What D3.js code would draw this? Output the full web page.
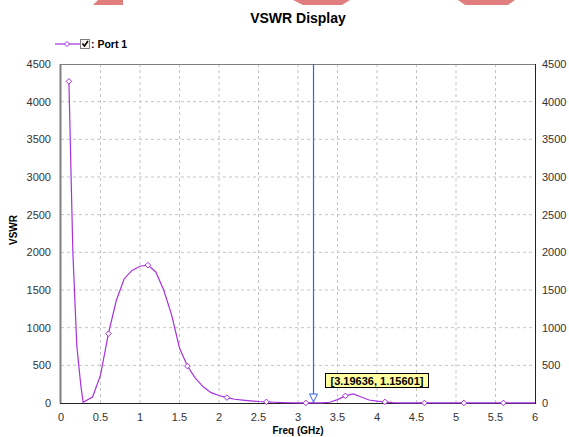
<!DOCTYPE html>
<html lang="en">
<head>
<meta charset="UTF-8">
<title>VSWR Display</title>
<script src="https://d3js.org/d3.v7.min.js"></script>
<style>
  body { margin: 0; background: #fff; }
  svg { display: block; font-family: "Liberation Sans", Arial, sans-serif; }
</style>
</head>
<body>
<svg width="569" height="437"></svg>
<script>
// data
const freq = [0.1, 0.15, 0.2, 0.25, 0.28, 0.4, 0.5, 0.6, 0.7, 0.8, 0.9, 1.0,
              1.1, 1.2, 1.3, 1.4, 1.5, 1.6, 1.7, 1.8, 1.9, 2.0,
              2.1, 2.2, 2.3, 2.4, 2.5, 2.6, 2.7, 2.8, 2.9, 3.0,
              3.1, 3.2, 3.3, 3.4, 3.5, 3.6, 3.7, 3.8, 3.9, 4.0,
              4.1, 4.2, 4.3, 4.4, 4.5, 4.6, 4.7, 4.8, 4.9, 5.0,
              5.1, 5.2, 5.3, 5.4, 5.5, 5.6, 5.7, 5.8, 5.9, 6.0];
const vswr = [4270, 2000, 760, 240, 10, 80, 370, 920, 1360, 1650, 1760, 1815,
              1830, 1740, 1500, 1170, 730, 490, 330, 215, 137, 100,
              72, 50, 38, 28, 20, 15, 10, 6, 3, 2,
              1.2, 1.16, 2, 10, 45, 95, 120, 80, 40, 25,
              15, 5, 2, 1, 1, 1, 1, 1, 1, 1,
              1, 1, 1, 1, 1, 1, 1, 1, 1, 1];
const markerFreq = [0.1, 0.6, 1.1, 1.6, 2.1, 2.6, 3.1, 3.6, 4.1, 4.6, 5.1, 5.6];
const xTicks = [0, 0.5, 1, 1.5, 2, 2.5, 3, 3.5, 4, 4.5, 5, 5.5, 6];
const yTicks = [0, 500, 1000, 1500, 2000, 2500, 3000, 3500, 4000, 4500];
const cursor = { f: 3.19636, v: 1.15601 };

const svg = d3.select("svg");
const mLeft = 61, mRight = 535, mTop = 64, mBottom = 403;
const purple = "#a830e0";

const x = d3.scaleLinear().domain([0, 6]).range([mLeft, mRight]);
const y = d3.scaleLinear().domain([0, 4500]).range([mBottom, mTop]);

// red bits at the top edge
const blobs = [
  [[98, 0], [123, 0], [123, 5], [93, 5]],
  [[293, 0], [350, 0], [342, 5], [303, 5]],
  [[458, 0], [515, 0], [508, 5], [465, 5]]
];
svg.selectAll(".blob").data(blobs).enter().append("polygon")
  .attr("points", d => d.map(p => p.join(",")).join(" "))
  .attr("fill", "#e07e7e");

// title
svg.append("text").attr("x", 298).attr("y", 23).attr("text-anchor", "middle")
  .attr("font-size", 14).attr("font-weight", "bold").text("VSWR Display");

// legend
const lg = svg.append("g");
lg.append("line").attr("x1", 55).attr("x2", 80).attr("y1", 44).attr("y2", 44)
  .attr("stroke", purple).attr("stroke-width", 1.2);
lg.append("path").attr("d", "M67,41.5L69.5,44L67,46.5L64.5,44Z")
  .attr("fill", "#fff").attr("stroke", purple);
lg.append("rect").attr("x", 80.5).attr("y", 39.5).attr("width", 9).attr("height", 9)
  .attr("fill", "#f4f4ec").attr("stroke", "#808080");
lg.append("path").attr("d", "M82.5,43.5L84.5,46L88,41")
  .attr("fill", "none").attr("stroke", "#000").attr("stroke-width", 1.6);
lg.append("text").attr("x", 91).attr("y", 48).attr("font-size", 10.5)
  .attr("font-weight", "bold").text(": Port 1");

// grid
svg.append("g").selectAll("line").data(xTicks.slice(1, -1)).enter().append("line")
  .attr("x1", d => x(d)).attr("x2", d => x(d)).attr("y1", mTop).attr("y2", mBottom)
  .attr("stroke", "#c4c4c4").attr("stroke-dasharray", "3,3");
svg.append("g").selectAll("line").data(yTicks.slice(1, -1)).enter().append("line")
  .attr("x1", mLeft).attr("x2", mRight).attr("y1", d => y(d)).attr("y2", d => y(d))
  .attr("stroke", "#c4c4c4").attr("stroke-dasharray", "3,3");

// frame
svg.append("line").attr("x1", mLeft).attr("x2", mRight).attr("y1", mTop + 0.5).attr("y2", mTop + 0.5)
  .attr("stroke", "#808080");
svg.append("line").attr("x1", mLeft - 0.5).attr("x2", mLeft - 0.5).attr("y1", mTop).attr("y2", mBottom)
  .attr("stroke", "#808080").attr("stroke-width", 2);
svg.append("line").attr("x1", mRight + 0.5).attr("x2", mRight + 0.5).attr("y1", mTop).attr("y2", mBottom)
  .attr("stroke", "#222");
svg.append("line").attr("x1", mLeft - 1).attr("x2", mRight + 1).attr("y1", mBottom + 0.5).attr("y2", mBottom + 0.5)
  .attr("stroke", "#222");

// tick labels
const tickFont = 11;
svg.append("g").selectAll("text").data(yTicks).enter().append("text")
  .attr("x", 51).attr("y", d => y(d) + 4).attr("text-anchor", "end")
  .attr("font-size", tickFont).attr("fill", "#333").text(d => d);
svg.append("g").selectAll("text").data(yTicks).enter().append("text")
  .attr("x", 542).attr("y", d => y(d) + 4)
  .attr("font-size", tickFont).attr("fill", "#333").text(d => d);
svg.append("g").selectAll("text").data(xTicks).enter().append("text")
  .attr("x", d => x(d)).attr("y", 421).attr("text-anchor", "middle")
  .attr("font-size", tickFont).attr("fill", "#333").text(d => d);

// axis titles
svg.append("text").attr("x", 298).attr("y", 434).attr("text-anchor", "middle")
  .attr("font-size", 10).attr("font-weight", "bold").text("Freq (GHz)");
svg.append("text").attr("transform", "translate(17,230) rotate(-90)")
  .attr("text-anchor", "middle").attr("font-size", 10).attr("font-weight", "bold").text("VSWR");

// curve
const pts = freq.map((f, i) => [f, vswr[i]]);
const line = d3.line().x(d => x(d[0])).y(d => y(d[1]));
svg.append("path").datum(pts).attr("d", line)
  .attr("fill", "none").attr("stroke", purple).attr("stroke-width", 1.2);

// markers
const markers = pts.filter(p => markerFreq.some(m => Math.abs(m - p[0]) < 1e-6));
svg.append("g").selectAll("path").data(markers).enter().append("path")
  .attr("d", d => {
    const cx = x(d[0]), cy = y(d[1]);
    return `M${cx},${cy - 2.8}L${cx + 2.8},${cy}L${cx},${cy + 2.8}L${cx - 2.8},${cy}Z`;
  })
  .attr("fill", "#fff").attr("stroke", purple);

// cursor line and readout
const cx = x(cursor.f);
svg.append("line").attr("x1", cx).attr("x2", cx).attr("y1", mTop).attr("y2", mBottom)
  .attr("stroke", "#3a5cff").attr("stroke-width", 1.2);
svg.append("path").attr("d", `M${cx - 4},${mBottom - 9}L${cx + 4},${mBottom - 9}L${cx},${mBottom - 1}Z`)
  .attr("fill", "#fff").attr("stroke", "#3a5cff");
const label = `[${cursor.f}, ${cursor.v}]`;
svg.append("rect").attr("x", 325.5).attr("y", 373.5).attr("width", 103).attr("height", 14)
  .attr("fill", "#ffffa0").attr("stroke", "#000");
svg.append("text").attr("x", 377).attr("y", 384.5).attr("text-anchor", "middle")
  .attr("font-size", 11).attr("font-weight", "bold").text(label);
</script>
</body>
</html>
